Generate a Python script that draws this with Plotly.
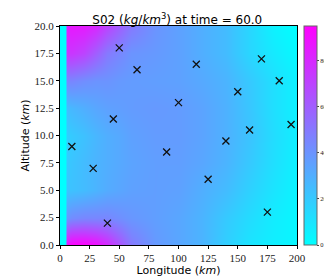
import plotly.graph_objects as go

# grid coordinates (km)
grid_lon = [0, 4.5, 5.5, 10, 20, 30, 40, 50, 60, 80, 100, 120, 140, 160, 180, 200]
grid_alt = [0, 2.5, 5, 7.5, 10, 12.5, 15, 17.5, 20]

# estimated concentration values (kg/km^3), rows = altitude, cols = longitude
conc = [
    [0, 0, 900, 950, 950, 900, 800, 650, 500, 380, 330, 280, 180, 100, 60, 30],
    [0, 0, 400, 430, 450, 450, 450, 420, 390, 360, 330, 280, 200, 130, 70, 30],
    [0, 0, 220, 230, 250, 280, 310, 330, 350, 360, 350, 300, 250, 170, 100, 40],
    [0, 0, 200, 220, 250, 280, 300, 320, 340, 360, 360, 330, 280, 200, 120, 50],
    [0, 0, 180, 200, 230, 270, 300, 320, 350, 370, 370, 340, 290, 220, 130, 60],
    [0, 0, 250, 270, 300, 330, 350, 360, 370, 380, 370, 340, 290, 210, 120, 50],
    [0, 0, 450, 450, 420, 400, 400, 380, 370, 360, 350, 320, 280, 200, 120, 50],
    [0, 0, 750, 750, 700, 600, 500, 450, 400, 380, 350, 300, 250, 150, 80, 20],
    [0, 0, 850, 860, 850, 800, 700, 600, 500, 400, 350, 300, 250, 150, 50, 0],
]

# sensor locations
sensor_lon = [10, 28, 40, 45, 50, 65, 90, 100, 115, 125, 140, 150, 160, 170, 175, 185, 195]
sensor_alt = [9, 7, 2, 11.5, 18, 16, 8.5, 13, 16.5, 6, 9.5, 14, 10.5, 17, 3, 15, 11]

serif = "Liberation Serif"
sans = "DejaVu Sans"

fig = go.Figure()
fig.add_trace(go.Heatmap(
    x=grid_lon, y=grid_alt, z=conc,
    zsmooth="best", zmin=0, zmax=950,
    colorscale=[[0, "rgb(0,255,255)"], [1, "rgb(255,0,255)"]],
    colorbar=dict(
        x=1.03, xanchor="left", xpad=0, y=0.5, yanchor="middle", ypad=0,
        len=1.0, lenmode="fraction", thickness=13,
        outlinecolor="#666", outlinewidth=1,
        tickvals=[0, 200, 400, 600, 800], ticks="outside", ticklen=2,
        tickcolor="#444", tickfont=dict(family=serif, size=6.5, color="#222"),
    ),
    showscale=True,
))
fig.add_trace(go.Scatter(
    x=sensor_lon, y=sensor_alt, mode="markers",
    marker=dict(symbol="x-thin", size=7, color="black",
                line=dict(width=1.3, color="#111")),
    showlegend=False, hoverinfo="skip",
))

fig.update_layout(
    width=332, height=278,
    margin=dict(l=52, r=43, t=18, b=41, autoexpand=False),
    paper_bgcolor="white", plot_bgcolor="white",
    title=dict(
        text="S02 (<i>kg</i>/<i>km</i><sup>3</sup>) at time = 60.0",
        x=0.51, xanchor="center", y=0.972, yanchor="top",
        font=dict(family=sans, size=12, color="black"),
    ),
    showlegend=False,
)
fig.update_xaxes(
    range=[0, 200], tickvals=[0, 25, 50, 75, 100, 125, 150, 175, 200],
    ticks="outside", ticklen=3, tickcolor="black",
    showline=True, linecolor="black", linewidth=1, mirror=True,
    showgrid=False, zeroline=False, automargin=False,
    tickfont=dict(family=serif, size=11, color="#222"),
    title=dict(text="Longitude (<i>km</i>)", font=dict(family=sans, size=11, color="black"), standoff=2),
)
fig.update_yaxes(
    range=[0, 20], tickvals=[0, 2.5, 5, 7.5, 10, 12.5, 15, 17.5, 20],
    ticktext=["0.0", "2.5", "5.0", "7.5", "10.0", "12.5", "15.0", "17.5", "20.0"],
    ticks="outside", ticklen=3, tickcolor="black",
    showline=True, linecolor="black", linewidth=1, mirror=True,
    showgrid=False, zeroline=False, automargin=False,
    tickfont=dict(family=serif, size=11, color="#222"),
    title=dict(text="Altitude (<i>km</i>)", font=dict(family=sans, size=11, color="black"), standoff=2),
)

fig.write_html("out.html")
